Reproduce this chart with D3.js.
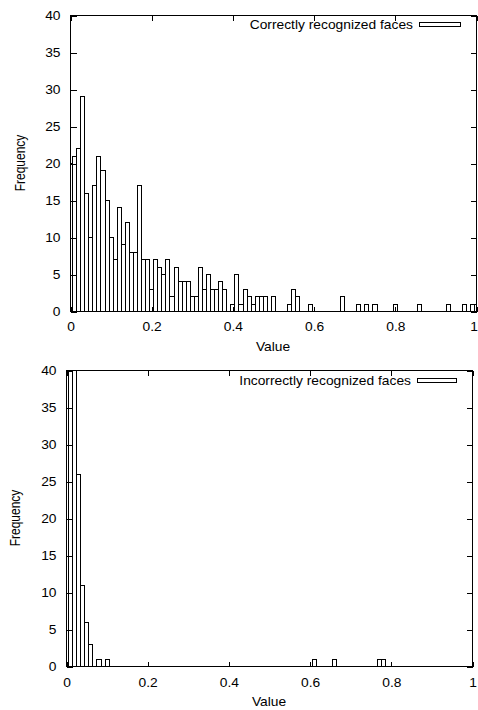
<!DOCTYPE html>
<html><head><meta charset="utf-8">
<script src="https://cdn.jsdelivr.net/npm/d3@7"></script>
<style>
body{margin:0;background:#fff}
svg{display:block}
text{font-family:"Liberation Sans",Arial,Helvetica,sans-serif;font-size:12px;fill:#000}
</style>
</head><body>
<svg id="c" width="478" height="710"></svg>
<script>
// ---- data ----
const topBins   = [0.00,0.01,0.02,0.03,0.04,0.05,0.06,0.07,0.08,0.09,0.10,0.11,0.12,0.13,0.14,0.15,0.16,0.17,0.18,0.19,0.20,0.21,0.22,0.23,0.24,0.25,0.26,0.27,0.28,0.29,0.30,0.31,0.32,0.33,0.34,0.35,0.36,0.37,0.38,0.40,0.41,0.42,0.43,0.44,0.45,0.46,0.47,0.48,0.50,0.54,0.55,0.56,0.59,0.67,0.71,0.73,0.75,0.80,0.86,0.93,0.97,0.99,1.00];
const topCounts = [20,21,22,29,16,10,17,21,19,15,10,7,14,9,12,8,8,17,7,7,3,7,6,5,7,2,6,4,4,4,2,2,6,3,5,3,3,4,3,1,5,1,3,2,1,2,2,2,2,1,3,2,1,2,1,1,1,1,1,1,1,1,1];
const botBins   = [0.00,0.01,0.02,0.03,0.04,0.05,0.06,0.08,0.10,0.61,0.66,0.77,0.78];
const botCounts = [55,90,62,26,11,6,3,1,1,1,1,1,1];
const xTicks = [0,0.2,0.4,0.6,0.8,1];
const xTickLabels = ["0","0.2","0.4","0.6","0.8","1"];
const yTicks = [0,5,10,15,20,25,30,35,40];
const topLegend = "Correctly recognized faces";
const botLegend = "Incorrectly recognized faces";
const xTitle = "Value";
const yTitle = "Frequency";
const binWidth = 0.01;

// ---- drawing ----
const SX = 1.15; // horizontal stretch of the original figure's text
const svg = d3.select("#c");

function panel(cfg, bins, counts, legend, id) {
  const x = d3.scaleLinear().domain([0,1]).range([cfg.l, cfg.r]);
  const y = d3.scaleLinear().domain([0,40]).range([cfg.b, cfg.t]);
  const g = svg.append("g");

  g.append("clipPath").attr("id", id).append("rect")
    .attr("x", cfg.l).attr("y", cfg.t).attr("width", cfg.r - cfg.l).attr("height", cfg.b - cfg.t);

  g.append("g").attr("clip-path", `url(#${id})`)
    .selectAll("rect").data(bins).join("rect")
    .attr("x", (d) => Math.round(x(d - binWidth/2)) + 0.5)
    .attr("width", (d) => Math.round(x(d + binWidth/2)) - Math.round(x(d - binWidth/2)))
    .attr("y", (d,i) => Math.round(y(counts[i])) + 0.5)
    .attr("height", (d,i) => Math.round(y(0)) - Math.round(y(counts[i])))
    .attr("fill", "#fff").attr("stroke", "#000").attr("stroke-width", 1)
    .attr("shape-rendering", "crispEdges");

  const fmt = (d) => xTickLabels[xTicks.indexOf(d)];
  // bottom axis
  const ax = g.append("g").attr("transform", `translate(0.5,${cfg.b + 0.5})`)
    .call(d3.axisBottom(x).tickValues(xTicks).tickFormat(fmt).tickSize(-5).tickSizeOuter(0).tickPadding(cfg.xpad));
  // top axis (mirror ticks)
  const axT = g.append("g").attr("transform", `translate(0.5,${cfg.t + 0.5})`)
    .call(d3.axisTop(x).tickValues(xTicks).tickSize(-5).tickSizeOuter(0).tickFormat(""));
  // left axis
  const ay = g.append("g").attr("transform", `translate(${cfg.l + 0.5},0.5)`)
    .call(d3.axisLeft(y).tickValues(yTicks).tickSize(-6).tickSizeOuter(0).tickPadding(10));
  // right axis (mirror ticks)
  const ayR = g.append("g").attr("transform", `translate(${cfg.r + 0.5},0.5)`)
    .call(d3.axisRight(y).tickValues(yTicks).tickSize(-6).tickSizeOuter(0).tickFormat(""));

  [ax, axT, ay, ayR].forEach((a) => {
    a.select(".domain").remove();
    a.selectAll("line").attr("stroke", "#000").attr("shape-rendering", "crispEdges");
    a.selectAll("text").attr("font-size", 12).attr("font-family", null);
  });
  ax.selectAll("text").attr("transform", `scale(${SX},1)`)
    .attr("x", (d) => (d === 1 ? cfg.lastShift : 0) / SX);
  ay.selectAll("text").attr("x", -10 / SX).attr("dy", "0.36em").attr("transform", `scale(${SX},1)`);

  // frame
  g.append("rect").attr("x", cfg.l + 0.5).attr("y", cfg.t + 0.5)
    .attr("width", cfg.r - cfg.l).attr("height", cfg.b - cfg.t)
    .attr("fill", "none").attr("stroke", "#000").attr("shape-rendering", "crispEdges");

  // titles
  g.append("text").attr("transform", `translate(${(cfg.l + cfg.r)/2},${cfg.xt}) scale(${SX},1)`)
    .attr("text-anchor", "middle").text(xTitle);
  g.append("text").attr("transform", `translate(${cfg.yx},${(cfg.t + cfg.b)/2}) scale(${SX},1) rotate(-90)`)
    .attr("text-anchor", "middle").attr("dy", "0.35em").text(yTitle);

  // legend
  g.append("text").attr("transform", `translate(${cfg.lgx},${cfg.lgy}) scale(${SX},1)`)
    .attr("text-anchor", "end").text(legend);
  g.append("rect").attr("x", cfg.lgx + 6.5).attr("y", cfg.lgy - 6.5)
    .attr("width", cfg.lgw).attr("height", 4)
    .attr("fill", "#fff").attr("stroke", "#000").attr("shape-rendering", "crispEdges");
}

panel({l:70, r:476, t:15, b:311, xpad:10.5, xt:351, yx:20, lgx:413, lgy:29, lgw:41, lastShift:-3},
      topBins, topCounts, topLegend, "clipTop");
panel({l:66, r:472, t:370, b:666, xpad:11.5, xt:706, yx:15, lgx:411, lgy:385, lgw:39, lastShift:0},
      botBins, botCounts, botLegend, "clipBot");
</script>
</body></html>
